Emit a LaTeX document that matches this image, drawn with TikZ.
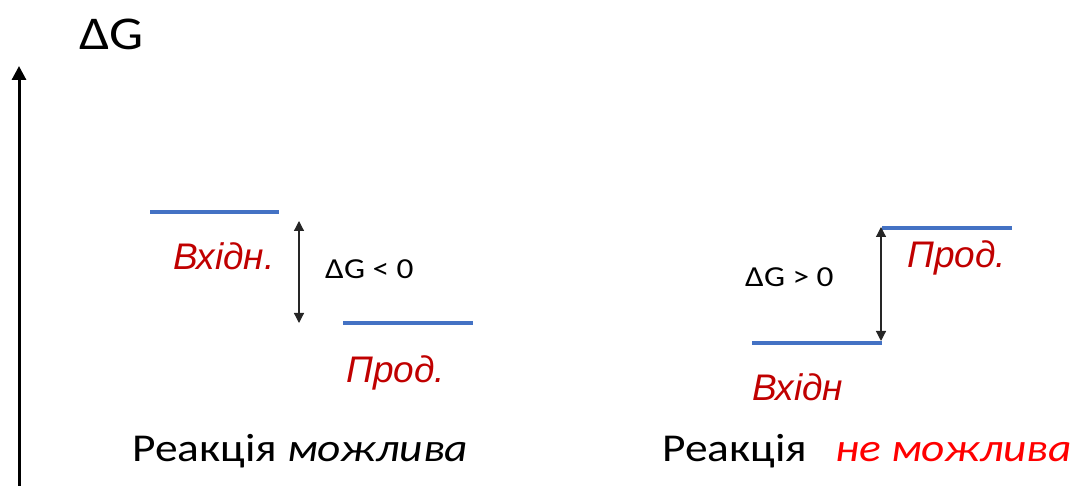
\documentclass[tikz,border=0pt]{standalone}
\usepackage{fontspec}
\setmainfont{Carlito}[FakeStretch=1.15]
\newfontfamily\arialfont{Liberation Sans}
\usetikzlibrary{arrows.meta}
\definecolor{lvlblue}{HTML}{4472C4}
\definecolor{darkred}{HTML}{C00000}
\definecolor{brightred}{HTML}{FF0000}
\begin{document}
\begin{tikzpicture}[x=1pt,y=-1pt,
  level/.style={draw=lvlblue,line width=4pt},
  gap/.style={draw=black!85,line width=1.2pt,{Triangle[width=10pt,length=10pt]}-{Triangle[width=10pt,length=10pt]}},
  lbl/.style={inner sep=0pt,anchor=base west,font=\fontsize{37}{40}\selectfont\arialfont\itshape,text=darkred},
  dgtext/.style={inner sep=0pt,anchor=base west,font=\fontsize{29}{32}\selectfont},
  captext/.style={inner sep=0pt,anchor=base west,font=\fontsize{39.5}{44}\selectfont}]
\useasboundingbox (0,0) rectangle (1072,486);
% axis
\coordinate (axb) at (19,490);
\coordinate (axt) at (19,66);
\draw[line width=3pt,-{Triangle[width=14pt,length=14pt]}] (axb) -- (axt);
\node[inner sep=0pt,anchor=base west,font=\fontsize{47}{50}\selectfont] (dgaxis) at (79,50) {ΔG};
% left diagram
\draw[level] (150,212) -- (279,212);
\draw[level] (343,323) -- (473,323);
\coordinate (la) at (299,221);
\coordinate (lb) at (299,323);
\draw[gap] (la) -- (lb);
\node[lbl] (vin1) at (173,270) {Вхідн.};
\node[lbl] (prod1) at (346,383) {Прод.};
\node[dgtext] (dgl) at (325,279) {ΔG < 0};
\node[captext] (r1) at (132,462) {Реакція \textit{можлива}};
% right diagram
\draw[level] (752,343) -- (882,343);
\draw[level] (882,228) -- (1012,228);
\coordinate (ra) at (881,227);
\coordinate (rb) at (881,341);
\draw[gap] (rb) -- (ra);
\node[lbl] (prod2) at (907,268) {Прод.};
\node[lbl] (vin2) at (752,401) {Вхідн};
\node[dgtext] (dgr) at (745,287) {ΔG > 0};
\node[captext] (r2) at (662,462) {Реакція};
\node[captext,text=brightred] (r3) at (835,462) {\textit{не можлива}};
\end{tikzpicture}
\end{document}
